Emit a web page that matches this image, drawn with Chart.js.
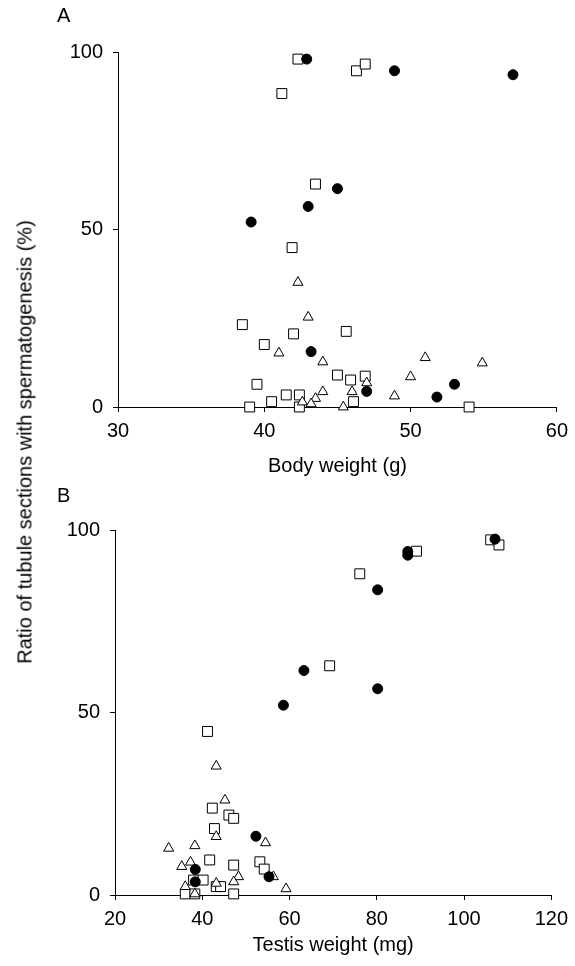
<!DOCTYPE html>
<html>
<head>
<meta charset="utf-8">
<script src="https://cdn.jsdelivr.net/npm/chart.js@4"></script>
<style>
    body { margin: 0; background: #fff; }
    #wrap { position: relative; width: 575px; height: 966px; font-family: "Liberation Sans", Arial, sans-serif; color: #000; }
    .panel { position: absolute; left: 0; width: 575px; }
    .lbl { position: absolute; font-size: 20px; line-height: 1; }
    #ytitle { position: absolute; left: 25px; top: 442px; font-size: 20px; white-space: nowrap;
              transform: translate(-50%, -50%) rotate(-90deg); }
</style>
</head>
<body>
<div id="wrap">
    <div class="panel" style="top:0;height:480px"><canvas id="chartA"></canvas></div>
    <div class="panel" style="top:480px;height:486px"><canvas id="chartB"></canvas></div>
    <div class="lbl" style="left:57px;top:5px">A</div>
    <div class="lbl" style="left:57px;top:485px">B</div>
    <div id="ytitle">Ratio of tubule sections with spermatogenesis (%)</div>
</div>
<script>
// panel A - body weight (g)
var circleAx = [42.9, 48.9, 57.0, 45.0, 43.0, 39.1, 43.2, 53.0, 47.0, 51.8];
var circleAy = [98.0, 94.7, 93.6, 61.5, 56.5, 52.1, 15.6, 6.4, 4.4, 2.8];
var squareAx = [42.3, 46.3, 46.9, 41.2, 43.5, 41.9, 38.5, 42.0, 45.6, 40.0, 45.0, 45.9, 46.9, 39.5, 41.5, 42.4, 40.5, 46.1, 39.0, 42.4, 54.0];
var squareAy = [98.0, 94.7, 96.6, 88.3, 62.8, 44.9, 23.2, 20.6, 21.3, 17.6, 9.0, 7.6, 8.7, 6.4, 3.4, 3.4, 1.5, 1.5, 0, 0, 0];
var triAx = [42.3, 43.0, 41.0, 44.0, 51.0, 54.9, 47.0, 50.0, 46.0, 44.0, 48.9, 43.5, 42.6, 43.2, 45.4];
var triAy = [35.1, 25.3, 15.2, 12.7, 13.9, 12.4, 6.8, 8.5, 4.3, 4.3, 3.1, 2.4, 1.4, 0.9, 0];

// panel B - testis weight (mg)
var circleBx = [107.1, 87.1, 87.1, 80.2, 63.3, 80.2, 58.6, 52.3, 38.4, 55.3, 38.4];
var circleBy = [97.5, 94.1, 93.1, 83.6, 61.5, 56.5, 52.0, 16.1, 7.0, 5.0, 3.6];
var squareBx = [106.1, 108.0, 89.1, 76.1, 69.2, 41.2, 42.3, 46.1, 47.2, 42.8, 41.7, 47.2, 53.2, 54.2, 38.0, 40.2, 43.2, 44.2, 36.1, 38.3, 47.2];
var squareBy = [97.3, 95.9, 94.2, 88.0, 62.8, 44.8, 23.8, 21.9, 21.0, 18.2, 9.6, 8.2, 9.1, 7.1, 4.1, 4.1, 2.3, 2.3, 0.3, 0.3, 0.3];
var triBx = [43.2, 45.2, 43.2, 54.5, 32.3, 38.3, 35.3, 37.3, 56.3, 48.3, 47.2, 36.1, 43.2, 38.3, 59.2];
var triBy = [35.3, 26.0, 16.0, 14.3, 12.8, 13.5, 7.8, 9.0, 5.0, 5.0, 3.6, 2.3, 3.2, 0.3, 1.7];

var yTicks = [0, 50, 100];
var xTicksA = [30, 40, 50, 60];
var xTicksB = [20, 40, 60, 80, 100, 120];

function pts(xs, ys) {
    return xs.map(function(x, i) { return {x: x, y: ys[i]}; });
}

var font = {family: '"Liberation Sans", Arial, sans-serif', size: 20};

function makeChart(id, cx, cy, sx, sy, tx, ty, xTicks, xTitle, lay) {
    var ctx = document.getElementById(id).getContext('2d');
    return new Chart(ctx, {
        type: 'scatter',
        data: {
            datasets: [
                {data: pts(cx, cy), pointStyle: 'circle', pointRadius: 5, backgroundColor: '#000', borderColor: '#000', borderWidth: 1, clip: false},
                {data: pts(tx, ty), pointStyle: 'triangle', pointRadius: 5.8, backgroundColor: '#fff', borderColor: '#000', borderWidth: 1, clip: false},
                {data: pts(sx, sy), pointStyle: 'rect', pointRadius: 7, backgroundColor: '#fff', borderColor: '#000', borderWidth: 1, clip: false}
            ]
        },
        options: {
            responsive: true,
            maintainAspectRatio: false,
            animation: false,
            layout: {padding: {top: lay.top, right: lay.right, left: 0, bottom: 0}},
            plugins: {legend: {display: false}, tooltip: {enabled: false}},
            scales: {
                x: {
                    type: 'linear',
                    min: xTicks[0],
                    max: xTicks[xTicks.length - 1],
                    afterBuildTicks: function(s) { s.ticks = xTicks.map(function(v) { return {value: v}; }); },
                    afterFit: function(s) { s.height = lay.xh; },
                    grid: {drawOnChartArea: false, drawTicks: true, tickLength: 5, color: '#000'},
                    border: {color: '#000', width: 1},
                    ticks: {color: '#000', font: font, padding: 7, maxRotation: 0},
                    title: {display: true, text: xTitle, color: '#000', font: font, padding: {top: 0, bottom: lay.tp}}
                },
                y: {
                    type: 'linear',
                    min: 0,
                    max: 100,
                    afterBuildTicks: function(s) { s.ticks = yTicks.map(function(v) { return {value: v}; }); },
                    afterFit: function(s) { s.width = lay.yw; },
                    grid: {drawOnChartArea: false, drawTicks: true, tickLength: 5, color: '#000'},
                    border: {color: '#000', width: 1},
                    ticks: {color: '#000', font: font, padding: 10}
                }
            }
        }
    });
}

makeChart('chartA', circleAx, circleAy, squareAx, squareAy, triAx, triAy, xTicksA, 'Body weight (g)',
    {top: 52, right: 18, yw: 118, xh: 73, tp: 2});
makeChart('chartB', circleBx, circleBy, squareBx, squareBy, triBx, triBy, xTicksB, 'Testis weight (mg)',
    {top: 50, right: 20, yw: 115, xh: 71, tp: 9});
</script>
</body>
</html>
